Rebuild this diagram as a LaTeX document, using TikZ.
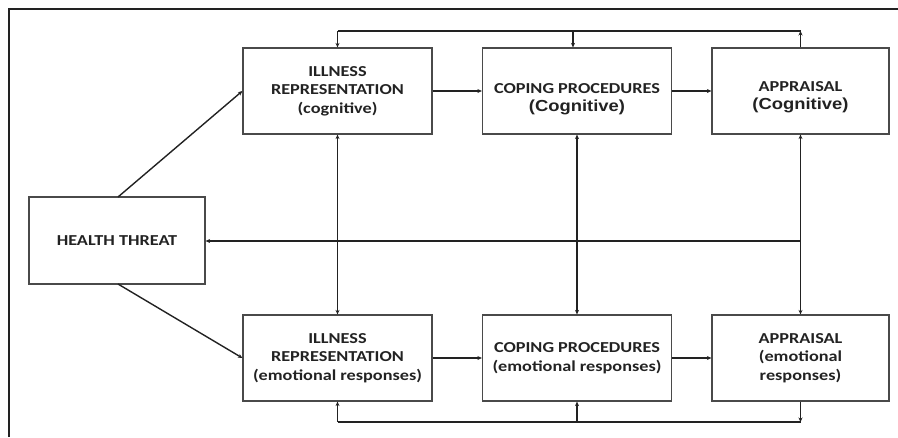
\documentclass[tikz,border=0pt]{standalone}
\usepackage{fontspec}
\setmainfont{Carlito}
\newfontfamily\calb[FakeStretch=1.2]{Carlito}
\newfontfamily\arib[FakeStretch=1.15]{Liberation Sans}
\usetikzlibrary{arrows.meta,calc}
\definecolor{ink}{HTML}{222222}
\definecolor{edge}{HTML}{4A4A4A}
\begin{document}
\begin{tikzpicture}[x=1pt,y=-1pt,
  box/.style={draw=edge, line width=1.2pt, minimum width=189pt, minimum height=86pt, inner sep=0pt,
    align=center, text=ink, font=\calb\bfseries\fontsize{15.2}{18.5}\selectfont},
  lbl/.style={align=center, text=ink, inner sep=0pt, font=\calb\bfseries\fontsize{15.2}{18.5}\selectfont},
  ln/.style={draw=ink, line width=1.4pt},
  arr/.style={ln, -{Stealth[length=4.5pt,width=4pt]}},
  darr/.style={ln, {Stealth[length=4.5pt,width=4pt]}-{Stealth[length=4.5pt,width=4pt]}}]
\useasboundingbox (0,0) rectangle (898,437);
% frame
\coordinate (fbl) at (9,437);
\coordinate (ftl) at (9,9);
\coordinate (ftr) at (898,9);
\draw[draw=ink, line width=1.3pt] (fbl) -- (ftl) -- (ftr);
% boxes
\node[box] (irc) at (337.5,91) {ILLNESS\\REPRESENTATION\\(cognitive)};
\node[box, label={[lbl, name=cpct, yshift=-8pt]center:COPING PROCEDURES\\{\arib\bfseries\fontsize{16}{19}\selectfont (Cognitive)}}] (cpc) at (577,91) {};
\node[box, minimum width=177pt, label={[lbl, name=apct, yshift=-6pt]center:APPRAISAL\\{\arib\bfseries\fontsize{16}{19}\selectfont (Cognitive)}}] (apc) at (800.5,91) {};
\node[box, minimum width=176pt, minimum height=87pt] (ht) at (117,240.5) {HEALTH THREAT};
\node[box] (ire) at (337.5,358) {ILLNESS\\REPRESENTATION\\(emotional responses)};
\node[box] (cpe) at (577,358) {COPING PROCEDURES\\(emotional responses)};
\node[box, minimum width=177pt] (ape) at (800.5,358) {APPRAISAL\\(emotional\\responses)};
% health threat to representations
\coordinate (htt) at (118,197);
\coordinate (htb) at (118,284);
\draw[arr] (htt) -- (irc.west);
\draw[arr] (htb) -- (ire.west);
% horizontal flows
\draw[arr] (irc.east) -- (cpc.west);
\draw[arr] (cpc.east) -- (apc.west);
\draw[arr] (ire.east) -- (cpe.west);
\draw[arr] (cpe.east) -- (ape.west);
% vertical links
\draw[darr] (irc.south) -- (ire.north);
\draw[darr] (cpc.south) -- (cpe.north);
\draw[darr] (apc.south) -- (ape.north);
% back to health threat
\coordinate (hb) at (800.5,241);
\draw[arr] (hb) -- (ht.east |- hb);
% top feedback
\coordinate (t1) at (337.5,31);
\coordinate (t2) at (573,31);
\coordinate (t3) at (800.5,31);
\draw[arr] (apc.north) -- (t3);
\draw[ln] (t3) -- (t1);
\draw[arr] (t1) -- (irc.north);
\draw[arr] (t2) -- (t2 |- cpc.north);
% bottom feedback
\coordinate (b1) at (337.5,422);
\coordinate (b2) at (577,422);
\coordinate (b3) at (800.5,422);
\draw[arr] (ape.south) -- (b3);
\draw[ln] (b3) -- (b1);
\draw[arr] (b1) -- (ire.south);
\draw[arr] (b2) -- (cpe.south);
\end{tikzpicture}
\end{document}
